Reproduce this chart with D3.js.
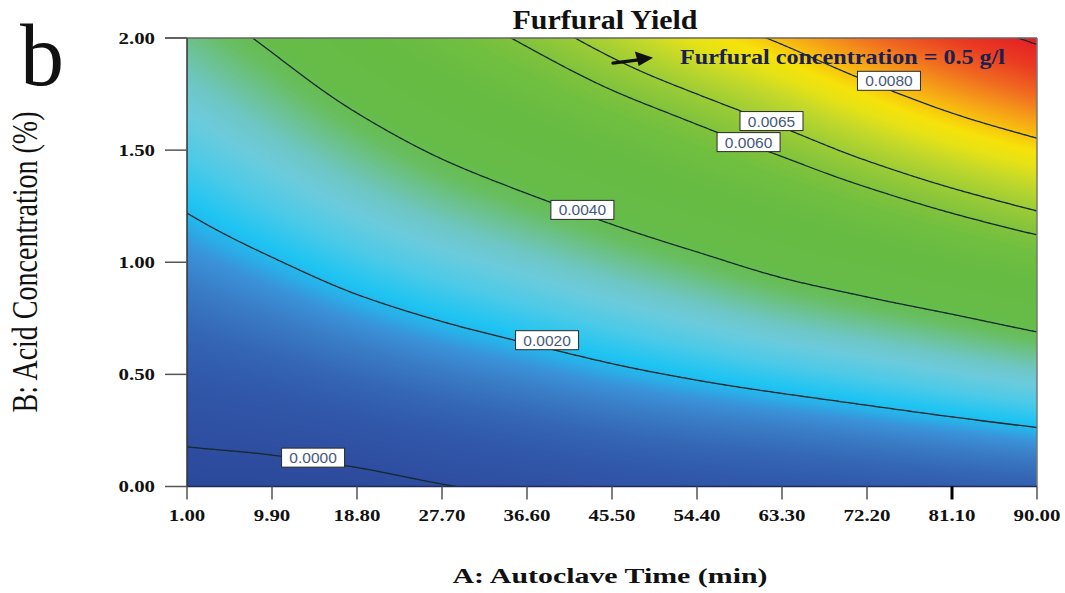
<!DOCTYPE html>
<html>
<head>
<meta charset="utf-8">
<script src="https://cdn.jsdelivr.net/npm/d3@7"></script>
<style>
  html, body { margin: 0; padding: 0; background: #fff; }
  svg { display: block; }
</style>
</head>
<body>
<svg id="chart" width="1065" height="593"></svg>
<script>
// Autoclave time (min) grid columns and acid concentration (%) grid rows
const timeValues = [1, 9.9, 18.8, 27.7, 36.6, 45.5, 54.4, 63.3, 72.2, 81.1, 90];
const acidValues = [0, 0.25, 0.5, 0.75, 1.0, 1.25, 1.5, 1.75, 2.0];

// Predicted furfural yield, one row per acid concentration (0.00 -> 2.00)
const yieldGrid = [
  [-0.00034, -0.00032, -0.00022, -0.00003, 0.00015, 0.00032, 0.00045, 0.00055, 0.00063, 0.00073, 0.00084],
  [ 0.00014,  0.00025,  0.00043,  0.00066, 0.00086, 0.00107, 0.00124, 0.00138, 0.00155, 0.00174, 0.00194],
  [ 0.00062,  0.00082,  0.00108,  0.00135, 0.00159, 0.00185, 0.00209, 0.00233, 0.00257, 0.00284, 0.00312],
  [ 0.00110,  0.00139,  0.00173,  0.00204, 0.00233, 0.00264, 0.00297, 0.00331, 0.00361, 0.00392, 0.00428],
  [ 0.00158,  0.00195,  0.00236,  0.00273, 0.00307, 0.00346, 0.00384, 0.00426, 0.00463, 0.00503, 0.00543],
  [ 0.00206,  0.00251,  0.00298,  0.00342, 0.00383, 0.00426, 0.00471, 0.00517, 0.00565, 0.00614, 0.00660],
  [ 0.00256,  0.00306,  0.00359,  0.00411, 0.00458, 0.00507, 0.00559, 0.00611, 0.00670, 0.00726, 0.00775],
  [ 0.00306,  0.00360,  0.00421,  0.00480, 0.00535, 0.00594, 0.00650, 0.00708, 0.00775, 0.00838, 0.00894],
  [ 0.00356,  0.00414,  0.00483,  0.00549, 0.00612, 0.00680, 0.00750, 0.00812, 0.00885, 0.00950, 0.01014]
];

// Contour levels and the labelled ones
const contourLevels = [0, 0.002, 0.004, 0.006, 0.0065, 0.008, 0.010];
const labelLevels = [0, 0.002, 0.004, 0.006, 0.0065, 0.008];
const labelTimes = [14.2, 38.7, 42.4, 59.8, 62.2, 74.5];

// Axis ticks
const timeTicks = [1, 9.9, 18.8, 27.7, 36.6, 45.5, 54.4, 63.3, 72.2, 81.1, 90];
const acidTicks = [0, 0.5, 1.0, 1.5, 2.0];

// Colour ramp for the response surface
const colorStops = [-0.0005, 0, 0.0006, 0.001, 0.0014, 0.0017, 0.0019, 0.0021, 0.0025, 0.0029, 0.0032, 0.0035,
                    0.0038, 0.0041, 0.005, 0.0056, 0.006, 0.0065, 0.007, 0.0074, 0.0077, 0.0080, 0.0084, 0.0089,
                    0.0095, 0.0101];
const colorRamp = ["#2b4898", "#2e4da0", "#3158aa", "#3466b4", "#3a7cc6", "#3a92d8", "#2aaee8", "#1ec4f2", "#4ccae8",
                   "#6ccbdc", "#6ec6c4", "#6cc294", "#68be62", "#66bc48", "#66bb42", "#70bf40", "#80c23c", "#9ccc36",
                   "#c2d82a", "#e6e216", "#f6e20a", "#f8c40e", "#f59c18", "#f06a20", "#ea3a22", "#e41e26"];

const svg = d3.select("#chart");
const plot = { left: 187, right: 1037, top: 38, bottom: 486.5 };

const x = d3.scaleLinear().domain([timeValues[0], timeValues[timeValues.length - 1]]).range([plot.left, plot.right]);
const y = d3.scaleLinear().domain([acidValues[0], acidValues[acidValues.length - 1]]).range([plot.bottom, plot.top]);
const color = d3.scaleLinear().domain(colorStops).range(colorRamp).interpolate(d3.interpolateRgb).clamp(true);

// ---- smooth surface through the grid (Catmull-Rom in both directions) ----
const padRow = r => [2 * r[0] - r[1], ...r, 2 * r[r.length - 1] - r[r.length - 2]];
const rowsPadded = yieldGrid.map(padRow);
const nR = rowsPadded.length;
const padded = [
  rowsPadded[0].map((v, k) => 2 * v - rowsPadded[1][k]),
  ...rowsPadded,
  rowsPadded[nR - 1].map((v, k) => 2 * v - rowsPadded[nR - 2][k])
];
const stepA = timeValues[1] - timeValues[0];
const stepB = acidValues[1] - acidValues[0];

function cr(p0, p1, p2, p3, t) {
  return 0.5 * ((2 * p1) + (-p0 + p2) * t + (2 * p0 - 5 * p1 + 4 * p2 - p3) * t * t +
                (-p0 + 3 * p1 - 3 * p2 + p3) * t * t * t);
}
function fieldAt(a, b) {
  const u = (a - timeValues[0]) / stepA, v = (b - acidValues[0]) / stepB;
  const i = Math.max(0, Math.min(timeValues.length - 2, Math.floor(u)));
  const j = Math.max(0, Math.min(acidValues.length - 2, Math.floor(v)));
  const tu = u - i, tv = v - j;
  const col = [];
  for (let m = 0; m < 4; m++) {
    const r = padded[j + m];
    col.push(cr(r[i], r[i + 1], r[i + 2], r[i + 3], tu));
  }
  return cr(col[0], col[1], col[2], col[3], tv);
}

// ---- clip for the plotting area ----
svg.append("defs").append("clipPath").attr("id", "plotClip")
  .append("rect")
  .attr("x", plot.left).attr("y", plot.top)
  .attr("width", plot.right - plot.left).attr("height", plot.bottom - plot.top);

// ---- colour field ----
const W = plot.right - plot.left, H = Math.ceil(plot.bottom - plot.top);
const canvas = document.createElement("canvas");
canvas.width = W; canvas.height = H;
const ctx = canvas.getContext("2d");
const img = ctx.createImageData(W, H);
const lutN = 2048, vMin = colorStops[0], vMax = colorStops[colorStops.length - 1];
const lut = d3.range(lutN).map(k => d3.rgb(color(vMin + (vMax - vMin) * k / (lutN - 1))));
for (let py = 0; py < H; py++) {
  const b = y.invert(plot.top + py + 0.5);
  for (let px = 0; px < W; px++) {
    const a = x.invert(plot.left + px + 0.5);
    const v = fieldAt(a, b);
    let k = Math.round((v - vMin) / (vMax - vMin) * (lutN - 1));
    k = Math.max(0, Math.min(lutN - 1, k));
    const c = lut[k], o = (py * W + px) * 4;
    img.data[o] = c.r; img.data[o + 1] = c.g; img.data[o + 2] = c.b; img.data[o + 3] = 255;
  }
}
ctx.putImageData(img, 0, 0);
svg.append("image")
  .attr("x", plot.left).attr("y", plot.top)
  .attr("width", W).attr("height", H)
  .attr("preserveAspectRatio", "none")
  .attr("clip-path", "url(#plotClip)")
  .attr("href", canvas.toDataURL());

// ---- contour lines ----
const cell = 2;
const nx = Math.ceil(W / cell) + 2, ny = Math.ceil((plot.bottom - plot.top) / cell) + 2;
const samples = new Float64Array(nx * ny);
for (let j = 0; j < ny; j++) {
  const b = y.invert(plot.top + (j - 0.5) * cell);
  for (let i = 0; i < nx; i++) {
    samples[j * nx + i] = fieldAt(x.invert(plot.left + (i - 0.5) * cell), b);
  }
}
const contours = d3.contours().size([nx, ny]).thresholds(contourLevels)(Array.from(samples));
const toPx = p => [plot.left + (p[0] - 1) * cell, plot.top + (p[1] - 1) * cell];
const ringLine = d3.line();
const lineG = svg.append("g").attr("clip-path", "url(#plotClip)")
  .attr("fill", "none").attr("stroke", "#142a2c").attr("stroke-width", 1.3);
contours.forEach(c => {
  c.coordinates.forEach(poly => poly.forEach(ring => {
    lineG.append("path").attr("d", ringLine(ring.map(toPx)));
  }));
});

// ---- frame and ticks ----
const axisG = svg.append("g");
axisG.append("line").attr("x1", 165).attr("x2", plot.right).attr("y1", plot.top).attr("y2", plot.top)
  .attr("stroke", "#666").attr("stroke-width", 1.5);
axisG.append("line").attr("x1", plot.right).attr("x2", plot.right).attr("y1", plot.top).attr("y2", plot.bottom)
  .attr("stroke", "#777").attr("stroke-width", 1.5);
axisG.append("line").attr("x1", plot.left).attr("x2", plot.left).attr("y1", plot.top).attr("y2", plot.bottom)
  .attr("stroke", "#333").attr("stroke-width", 1.5);
axisG.append("line").attr("x1", plot.left).attr("x2", plot.right).attr("y1", plot.bottom).attr("y2", plot.bottom)
  .attr("stroke", "#1d2b55").attr("stroke-width", 1.5);

axisG.selectAll(".ytick").data(acidTicks).enter().append("line")
  .attr("x1", 165).attr("x2", plot.left)
  .attr("y1", d => y(d)).attr("y2", d => y(d))
  .attr("stroke", "#555").attr("stroke-width", 1.5);
axisG.selectAll(".xtick").data(timeTicks).enter().append("line")
  .attr("x1", d => x(d)).attr("x2", d => x(d))
  .attr("y1", plot.bottom).attr("y2", plot.bottom + 13)
  .attr("stroke", d => d === 81.1 ? "#000" : "#555")
  .attr("stroke-width", d => d === 81.1 ? 3 : 1.5);

const fmt2 = d3.format(".2f");
const tickWidth = s => s.replace(".", "").length * 10.5 + 5;
axisG.selectAll(".ylab").data(acidTicks).enter().append("text")
  .attr("x", 155).attr("y", d => y(d) + 5.5)
  .attr("text-anchor", "end")
  .attr("font-family", "'Liberation Serif', 'Times New Roman', serif")
  .attr("font-weight", "bold").attr("font-size", 16).attr("fill", "#111")
  .attr("textLength", d => tickWidth(fmt2(d))).attr("lengthAdjust", "spacingAndGlyphs")
  .text(d => fmt2(d));
axisG.selectAll(".xlab").data(timeTicks).enter().append("text")
  .attr("x", d => x(d)).attr("y", 521)
  .attr("text-anchor", "middle")
  .attr("font-family", "'Liberation Serif', 'Times New Roman', serif")
  .attr("font-weight", "bold").attr("font-size", 17).attr("fill", "#111")
  .attr("textLength", d => tickWidth(fmt2(d))).attr("lengthAdjust", "spacingAndGlyphs")
  .text(d => fmt2(d));

// ---- contour labels ----
function acidAtLevel(a, level) {
  let lo = acidValues[0], hi = acidValues[acidValues.length - 1];
  for (let k = 0; k < 50; k++) {
    const mid = (lo + hi) / 2;
    if (fieldAt(a, mid) < level) lo = mid; else hi = mid;
  }
  return (lo + hi) / 2;
}
const labelLift = [3, 8, 4, 2, 2, 9];
const fmt4 = d3.format(".4f");
const labG = svg.append("g");
labelLevels.forEach((lv, k) => {
  const cx = x(labelTimes[k]);
  const cy = y(acidAtLevel(labelTimes[k], lv)) - labelLift[k];
  labG.append("rect")
    .attr("x", cx - 31.5).attr("y", cy - 9.5).attr("width", 63).attr("height", 19)
    .attr("fill", "#fff").attr("stroke", "#2a2a2a").attr("stroke-width", 1);
  labG.append("text")
    .attr("x", cx).attr("y", cy + 5.5)
    .attr("text-anchor", "middle")
    .attr("font-family", "'Liberation Sans', Arial, sans-serif")
    .attr("font-size", 15.5).attr("fill", "#46587a")
    .text(fmt4(lv));
});

// ---- annotation ----
const noteG = svg.append("g");
noteG.append("line")
  .attr("x1", x(45.6)).attr("y1", y(1.888))
  .attr("x2", x(48.9)).attr("y2", y(1.906))
  .attr("stroke", "#111").attr("stroke-width", 3.2).attr("stroke-linecap", "round");
noteG.append("path")
  .attr("d", `M${x(49.8)},${y(1.912)} L${x(47.9)},${y(1.94)} L${x(48.3)},${y(1.875)} Z`)
  .attr("fill", "#111");
noteG.append("text")
  .attr("x", 680).attr("y", 64)
  .attr("font-family", "'Liberation Serif', 'Times New Roman', serif")
  .attr("font-weight", "bold").attr("font-size", 20).attr("fill", "#1c2050")
  .attr("textLength", 325).attr("lengthAdjust", "spacingAndGlyphs")
  .text("Furfural concentration = 0.5 g/l");

// ---- titles ----
svg.append("text")
  .attr("x", 605).attr("y", 29)
  .attr("text-anchor", "middle")
  .attr("font-family", "'Liberation Serif', 'Times New Roman', serif")
  .attr("font-weight", "bold").attr("font-size", 28).attr("fill", "#111")
  .attr("textLength", 185).attr("lengthAdjust", "spacingAndGlyphs")
  .text("Furfural Yield");

svg.append("text")
  .attr("x", 610).attr("y", 583)
  .attr("text-anchor", "middle")
  .attr("font-family", "'Liberation Serif', 'Times New Roman', serif")
  .attr("font-weight", "bold").attr("font-size", 22).attr("fill", "#111")
  .attr("textLength", 315).attr("lengthAdjust", "spacingAndGlyphs")
  .text("A: Autoclave Time (min)");

svg.append("text")
  .attr("transform", "translate(37,262) scale(1.3,1) rotate(-90)")
  .attr("text-anchor", "middle")
  .attr("font-family", "'Liberation Serif', 'Times New Roman', serif")
  .attr("font-size", 28).attr("fill", "#111")
  .attr("textLength", 301).attr("lengthAdjust", "spacingAndGlyphs")
  .text("B: Acid Concentration (%)");

svg.append("text")
  .attr("x", 20).attr("y", 85)
  .attr("font-family", "'Liberation Serif', 'Times New Roman', serif")
  .attr("font-size", 88).attr("fill", "#111")
  .text("b");
</script>
</body>
</html>
